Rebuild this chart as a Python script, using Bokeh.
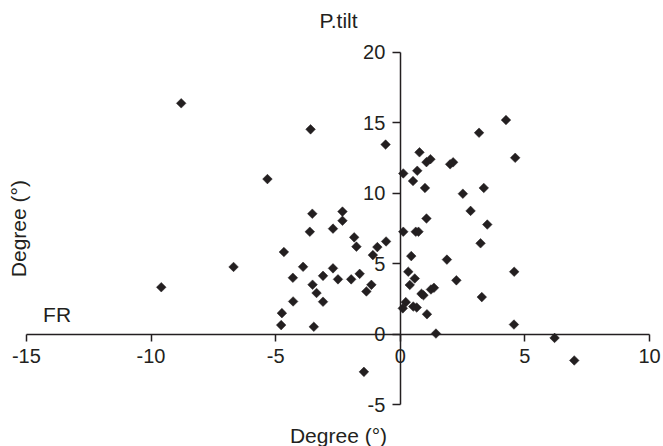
from bokeh.plotting import figure
from bokeh.models import Label, FixedTicker, ColumnDataSource, PrintfTickFormatter
from bokeh.embed import file_html
from bokeh.resources import INLINE
import math

# ---- data ----
fr = [-8.79, -9.59, -6.69, -5.33, -3.60, -0.59, -3.53, -3.63, -4.67, -3.90,
      -4.31, -4.30, -4.75, -4.78, -3.47, -3.52, -3.36, -3.10, -3.10, -2.70,
      -2.70, -2.50, -2.32, -2.32, -1.97, -1.85, -1.76, -1.63, -1.36, -1.16,
      -1.10, -0.92, -0.57, -1.46, 0.12, 0.12, 0.32, 0.44, 0.38, 0.22,
      0.10, 0.51, 0.68, 0.77, 0.58, 0.52, 0.66, 0.62, 0.73, 0.99,
      1.05, 1.05, 1.21, 0.85, 0.93, 1.07, 1.23, 1.35, 1.43, 1.87,
      2.00, 2.12, 2.25, 2.51, 2.82, 3.16, 3.22, 3.35, 3.27, 3.49,
      4.24, 4.61, 4.57, 4.56, 6.19, 6.98]
ptilt = [16.39, 3.33, 4.77, 11.01, 14.54, 13.46, 8.55, 7.27, 5.83, 4.78,
         4.00, 2.32, 1.49, 0.64, 0.52, 3.51, 2.92, 2.30, 4.14, 4.67,
         7.49, 3.89, 8.70, 8.05, 3.89, 6.87, 6.21, 4.28, 3.03, 3.50,
         5.61, 6.18, 6.58, -2.68, 11.41, 7.27, 4.43, 5.54, 3.49, 2.27,
         1.83, 10.87, 11.60, 12.91, 3.95, 1.96, 1.89, 7.27, 7.27, 10.38,
         8.21, 12.21, 12.42, 2.86, 2.76, 1.41, 3.17, 3.29, 0.04, 5.29,
         12.06, 12.20, 3.82, 9.97, 8.75, 14.30, 6.45, 10.38, 2.63, 7.78,
         15.20, 12.52, 4.43, 0.68, -0.27, -1.87]

x_ticks = [-15, -10, -5, 0, 5, 10]
y_ticks = [-5, 0, 5, 10, 15, 20]

top_title = "P.tilt"
x_title = "Degree (°)"
y_title = "Degree (°)"
x_series_label = "FR"

FONT = "Liberation Sans"
INK = "#231f20"

p = figure(width=663, height=446, x_range=(-16.04, 10.56), y_range=(-7.98, 23.69),
           output_backend="svg", toolbar_location=None, title=None,
           min_border=0)
p.outline_line_color = None
p.grid.visible = False
p.background_fill_color = "white"
p.border_fill_color = "white"

for ax in (p.xaxis[0], p.yaxis[0]):
    ax.fixed_location = 0
    ax.axis_line_color = INK
    ax.axis_line_width = 1.5
    ax.major_tick_line_color = INK
    ax.major_tick_line_width = 1.5
    ax.major_tick_in = 0
    ax.minor_tick_line_color = None
    ax.major_label_text_font = FONT
    ax.major_label_text_font_size = "20px"
    ax.major_label_text_color = INK
    ax.formatter = PrintfTickFormatter(format="%d")

p.xaxis[0].ticker = FixedTicker(ticks=x_ticks)
p.yaxis[0].ticker = FixedTicker(ticks=y_ticks)
p.xaxis[0].bounds = (x_ticks[0], x_ticks[-1])
p.yaxis[0].bounds = (y_ticks[0], y_ticks[-1])
p.xaxis[0].major_tick_out = 7
p.yaxis[0].major_tick_out = 8
p.xaxis[0].major_label_standoff = 8
p.yaxis[0].major_label_standoff = 7

src = ColumnDataSource(dict(x=fr, y=ptilt))
p.scatter("x", "y", source=src, marker="square", size=6.8, angle=math.pi / 4,
          fill_color=INK, line_color=INK, line_width=0.5)

def lab(text, x, y, align="center", angle=0.0):
    p.add_layout(Label(x=x, y=y, text=text, text_font=FONT, text_font_size="21px",
                       text_color=INK, text_align=align, text_baseline="alphabetic",
                       angle=angle))

lab(top_title, -2.48, 22.27)
lab(x_title, -2.48, -7.22)
lab(y_title, -15.32, 7.49, angle=math.pi / 2)
lab(x_series_label, -14.33, 1.39, align="left")

open("out.html", "w").write(file_html(p, INLINE))
